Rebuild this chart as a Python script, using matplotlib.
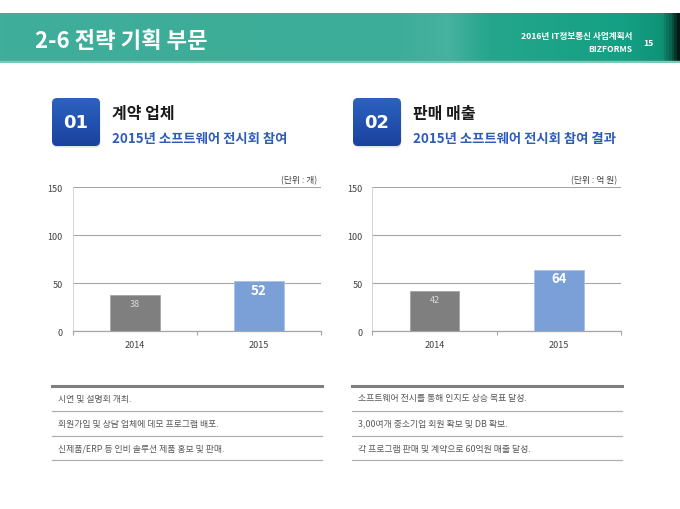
import numpy as np
import matplotlib
matplotlib.use("Agg")
import matplotlib.pyplot as plt
from matplotlib.patches import FancyBboxPatch, Rectangle
from matplotlib.colors import LinearSegmentedColormap

plt.rcParams['font.family'] = ['Noto Sans CJK KR', 'DejaVu Sans']

# ---- data ----
categories = ['2014', '2015']
contracts = [38, 52]
sales = [42, 64]
yticks = [0, 50, 100, 150]

page_title = '2-6 전략 기획 부문'
doc_title = '2016년 IT정보통신 사업계획서'
brand = 'BIZFORMS'
page_no = '15'

sec_nums = ['01', '02']
sec_titles = ['계약 업체', '판매 매출']
sec_subtitles = ['2015년 소프트웨어 전시회 참여', '2015년 소프트웨어 전시회 참여 결과']
units = ['(단위 : 개)', '(단위 : 억 원)']
notes_left = ['시연 및 설명회 개최.', '회원가입 및 상담 업체에 데모 프로그램 배포.', '신제품/ERP 등 인비 솔루션 제품 홍보 및 판매.']
notes_right = ['소프트웨어 전시를 통해 인지도 상승 목표 달성.', '3,00여개 중소기업 회원 확보 및 DB 확보.', '각 프로그램 판매 및 계약으로 60억원 매출 달성.']

W, H = 680, 510
fig = plt.figure(figsize=(6.8, 5.1), dpi=100)
fig.patch.set_facecolor('white')

def fx(px):
    return px / W

def fy(py):
    return 1 - py / H

# ---- header band ----
band = fig.add_axes([0, fy(64), 1, fy(14) - fy(64)])
band.set_axis_off()
cmap = LinearSegmentedColormap.from_list('band', [
    (0.0, '#3fae9a'), (0.58, '#3cad98'), (0.66, '#46b29f'), (0.72, '#25a68c'),
    (0.92, '#14a084'), (0.975, '#0f9477'), (0.99, '#0a5e4b'), (1.0, '#041a14')])
grad = np.linspace(0, 1, 680)[None, :]
band.imshow(grad, aspect='auto', cmap=cmap, extent=[0, 1, 0, 1])
band.add_patch(Rectangle((0, 0), 1, 0.05, color='#7cc9ba', transform=band.transAxes))
band.set_xlim(0, 1)
band.set_ylim(0, 1)

fig.text(fx(35), fy(41), page_title, color='white', fontsize=16, fontweight='bold', va='center', ha='left')
fig.text(fx(632), fy(37), doc_title, color='white', fontsize=6.2, fontweight='bold', va='center', ha='right')
fig.text(fx(632), fy(50), brand, color='white', fontsize=6.2, fontweight='bold', va='center', ha='right')
fig.text(fx(648), fy(43), page_no, color='white', fontsize=6.2, fontweight='bold', va='center', ha='center')

# ---- section headers ----
box_cmap = LinearSegmentedColormap.from_list('box', ['#1c429e', '#2b62c0'])
offsets = [0, 301]
for i, off in enumerate(offsets):
    bx0, by0, bw, bh = 52 + off, 99, 48, 48
    bax = fig.add_axes([fx(bx0 - 2), fy(by0 + bh + 3), fx(bw + 4), fy(by0 - 2) - fy(by0 + bh + 3)])
    bax.set_axis_off()
    bax.set_xlim(-2, bw + 2)
    bax.set_ylim(-3, bh + 2)
    shadow = FancyBboxPatch((0.5, -1.5), bw, bh, boxstyle='round,pad=0,rounding_size=5',
                            fc='#d0d0d0', ec='none', alpha=0.6, zorder=1)
    bax.add_patch(shadow)
    patch = FancyBboxPatch((0, 0), bw, bh, boxstyle='round,pad=0,rounding_size=5',
                           fc='none', ec='none', zorder=2)
    bax.add_patch(patch)
    im = bax.imshow(np.linspace(0, 1, 100)[:, None], aspect='auto', cmap=box_cmap,
                    extent=[0, bw, 0, bh], origin='lower', zorder=3)
    im.set_clip_path(patch)
    bax.text(bw / 2, bh / 2, sec_nums[i], color='white', fontsize=13, fontweight='bold',
             ha='center', va='center', family=['DejaVu Sans'], zorder=4)
    fig.text(fx(112 + off), fy(114), sec_titles[i], color='#1a1a1a', fontsize=11.5,
             fontweight='bold', ha='left', va='center')
    fig.text(fx(112 + off), fy(139), sec_subtitles[i], color='#2d5db6', fontsize=9.6,
             fontweight='bold', ha='left', va='center')

# ---- charts ----
datasets = [contracts, sales]
axes_x = [(72.7, 321), (372.3, 621)]
for i, vals in enumerate(datasets):
    x0, x1 = axes_x[i]
    ax = fig.add_axes([fx(x0), fy(332), fx(x1 - x0), fy(188) - fy(332)])
    xs = np.arange(len(categories))
    ax.bar(xs, vals, width=0.4, color=['#7f7f7f', '#7ba0d8'], edgecolor=['#a6a6a6', '#a9c0e6'],
           linewidth=0.6, zorder=3)
    ax.set_xlim(-0.5, 1.5)
    ax.set_ylim(0, 150)
    ax.set_yticks(yticks)
    ax.set_yticklabels([str(t) for t in yticks], fontsize=6.5, color='#404040')
    ax.tick_params(axis='y', length=0, pad=7)
    ax.set_xticks([-0.5, 0.5, 1.5])
    ax.set_xticklabels([])
    ax.tick_params(axis='x', length=3, color='#a6a6a6', direction='out', width=0.8)
    for xi, c in zip(xs, categories):
        ax.text(xi, -9, c, fontsize=6.5, color='#404040', ha='center', va='top')
    ax.grid(axis='y', color='#a6a6a6', linewidth=0.8, zorder=0)
    for s in ['top', 'right']:
        ax.spines[s].set_visible(False)
    ax.spines['left'].set_color('#d0d0d0')
    ax.spines['left'].set_linewidth(0.6)
    ax.spines['bottom'].set_color('#a6a6a6')
    ax.spines['bottom'].set_linewidth(0.9)
    ax.text(xs[0], vals[0] - 9, str(vals[0]), fontsize=6.5, color='#d9d9d9', ha='center', va='center', zorder=4)
    ax.text(xs[1], vals[1] - 9, str(vals[1]), fontsize=9.5, color='white', fontweight='bold',
            ha='center', va='center', zorder=4)
    fig.text(fx(x1 - 4), fy(181), units[i], fontsize=6.3, color='#404040', ha='right', va='center')

# ---- notes tables ----
tables = [(52, 322, notes_left), (352, 622, notes_right)]
row_lines = [411.5, 436.5, 461]
row_texts = [399, 424, 449]
for tx0, tx1, notes in tables:
    fig.add_artist(plt.Line2D([fx(tx0), fx(tx1)], [fy(386.5), fy(386.5)], color='#7f7f7f', linewidth=2.2))
    for yl in row_lines:
        fig.add_artist(plt.Line2D([fx(tx0), fx(tx1)], [fy(yl), fy(yl)], color='#b0b0b0', linewidth=0.9))
    for yt, note in zip(row_texts, notes):
        fig.text(fx(tx0 + 6), fy(yt), note, fontsize=6.4, color='#595959', ha='left', va='center')

fig.savefig('out.png', dpi=100, facecolor='white')
